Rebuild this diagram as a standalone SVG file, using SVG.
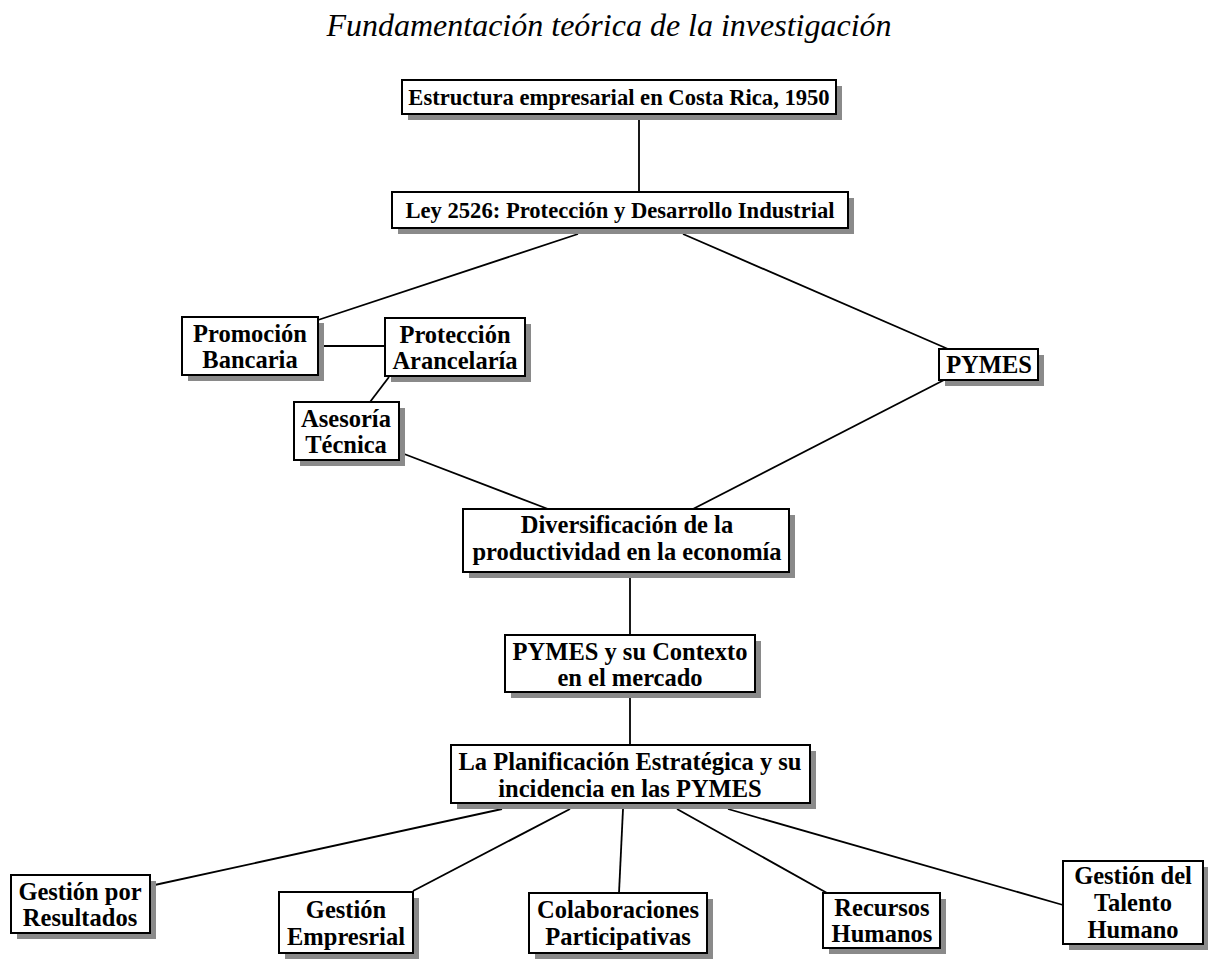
<svg xmlns="http://www.w3.org/2000/svg" width="1208" height="963" viewBox="0 0 1208 963">
<style>
.box{fill:#fff;stroke:#000;stroke-width:2}
.sh{fill:#8a8a8a}
.t{font-family:"Liberation Serif","Times New Roman",serif;font-weight:bold;font-size:24.5px;text-anchor:middle;fill:#000}
.s{font-size:22.6px}
.ttl{font-family:"Liberation Serif","Times New Roman",serif;font-style:italic;font-size:32px;text-anchor:middle;fill:#000}
.c line{stroke:#000;stroke-width:1.8}
</style>
<rect width="1208" height="963" fill="#fff"/>
<text class="ttl" x="609" y="36">Fundamentación teórica de la investigación</text>
<g class="c" id="connectors">
<line x1="639" y1="114" x2="639" y2="192"/>
<line x1="578" y1="234" x2="318" y2="320"/>
<line x1="683" y1="234" x2="948" y2="349"/>
<line x1="318" y1="346" x2="385" y2="346"/>
<line x1="389" y1="377" x2="370" y2="402"/>
<line x1="399" y1="452" x2="548" y2="509"/>
<line x1="944" y1="380" x2="693" y2="509"/>
<line x1="630" y1="572" x2="630" y2="635"/>
<line x1="630" y1="692" x2="630" y2="745"/>
<line x1="502" y1="809" x2="150" y2="886"/>
<line x1="570" y1="809" x2="413" y2="891"/>
<line x1="623" y1="809" x2="619" y2="893"/>
<line x1="677" y1="809" x2="827" y2="893"/>
<line x1="728" y1="809" x2="1063" y2="905"/>
</g>
<g id="n1"><rect class="sh" x="408" y="86" width="434" height="34"/><rect class="box" x="402" y="80" width="434" height="34"/><text class="t s" x="619" y="105">Estructura empresarial en Costa Rica, 1950</text></g>
<g id="n2"><rect class="sh" x="398" y="198" width="456" height="36"/><rect class="box" x="392" y="192" width="456" height="36"/><text class="t s" x="620" y="218">Ley 2526: Protección y Desarrollo Industrial</text></g>
<g id="n3"><rect class="sh" x="188" y="323" width="136" height="58"/><rect class="box" x="182" y="317" width="136" height="58"/><text class="t" x="250" y="342">Promoción</text><text class="t" x="250" y="368">Bancaria</text></g>
<g id="n4"><rect class="sh" x="391" y="324" width="140" height="58"/><rect class="box" x="385" y="318" width="140" height="58"/><text class="t" x="455" y="343">Protección</text><text class="t" x="455" y="369">Arancelaría</text></g>
<g id="n5"><rect class="sh" x="300" y="408" width="105" height="58"/><rect class="box" x="294" y="402" width="105" height="58"/><text class="t" x="346" y="427">Asesoría</text><text class="t" x="346" y="453">Técnica</text></g>
<g id="n6"><rect class="sh" x="945" y="355" width="99" height="31"/><rect class="box" x="939" y="349" width="99" height="31"/><text class="t" x="989" y="373">PYMES</text></g>
<g id="n7"><rect class="sh" x="469" y="515" width="326" height="63"/><rect class="box" x="463" y="509" width="326" height="63"/><text class="t" x="627" y="533">Diversificación de la</text><text class="t" x="627" y="560">productividad en la economía</text></g>
<g id="n8"><rect class="sh" x="511" y="641" width="250" height="57"/><rect class="box" x="505" y="635" width="250" height="57"/><text class="t" x="630" y="660">PYMES y su Contexto</text><text class="t" x="630" y="686">en el mercado</text></g>
<g id="n9"><rect class="sh" x="457" y="751" width="359" height="58"/><rect class="box" x="451" y="745" width="359" height="58"/><text class="t" x="630" y="770">La Planificación Estratégica y su</text><text class="t" x="630" y="797">incidencia en las PYMES</text></g>
<g id="n10"><rect class="sh" x="17" y="881" width="139" height="58"/><rect class="box" x="11" y="875" width="139" height="58"/><text class="t" x="80" y="900">Gestión por</text><text class="t" x="80" y="926">Resultados</text></g>
<g id="n11"><rect class="sh" x="285" y="898" width="134" height="61"/><rect class="box" x="279" y="892" width="134" height="61"/><text class="t" x="346" y="918">Gestión</text><text class="t" x="346" y="945">Empresrial</text></g>
<g id="n12"><rect class="sh" x="535" y="899" width="178" height="60"/><rect class="box" x="529" y="893" width="178" height="60"/><text class="t" x="618" y="918">Colaboraciones</text><text class="t" x="618" y="945">Participativas</text></g>
<g id="n13"><rect class="sh" x="829" y="899" width="117" height="55"/><rect class="box" x="823" y="893" width="117" height="55"/><text class="t" x="882" y="916">Recursos</text><text class="t" x="882" y="942">Humanos</text></g>
<g id="n14"><rect class="sh" x="1069" y="867" width="140" height="83"/><rect class="box" x="1063" y="861" width="140" height="83"/><text class="t" x="1133" y="884">Gestión del</text><text class="t" x="1133" y="911">Talento</text><text class="t" x="1133" y="938">Humano</text></g>
</svg>
